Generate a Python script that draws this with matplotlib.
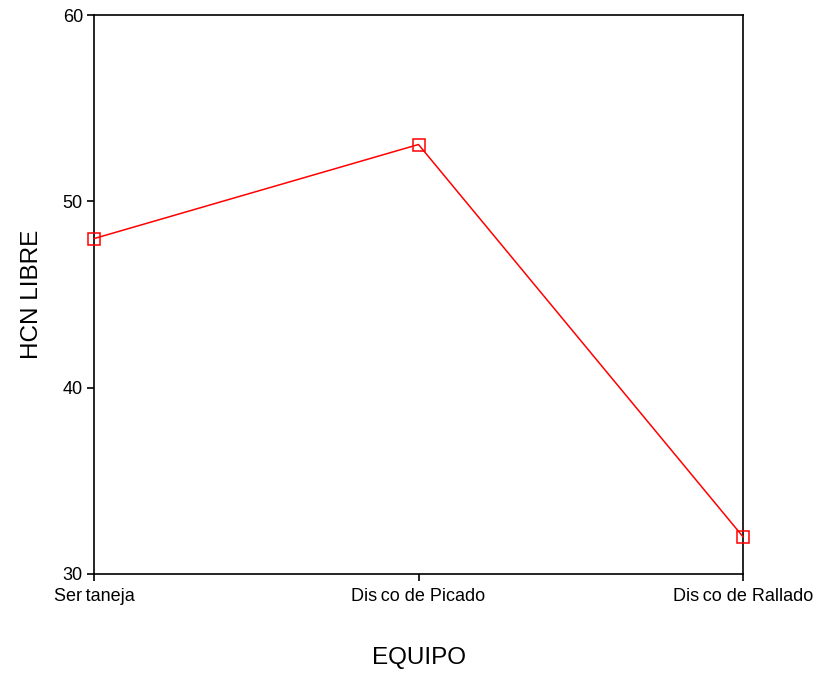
import matplotlib
matplotlib.use("Agg")
import matplotlib.pyplot as plt

equipos = ["Sertaneja", "Disco de Picado", "Disco de Rallado"]
hcn_libre = [48.0, 53.05, 32.0]
etiquetas = ["Ser\u2009taneja", "Dis\u2009co de Picado", "Dis\u2009co de Rallado"]

plt.rcParams['font.family'] = ['Liberation Sans', 'DejaVu Sans']

fig = plt.figure(figsize=(8.27, 6.73), dpi=100)
ax = fig.add_axes([94/827, 1-574/673, (743-94)/827, (574-15)/673])

x = list(range(len(equipos)))
ax.plot(x, hcn_libre, color="red", lw=1.1, marker="s", markersize=8.5,
        markerfacecolor="none", markeredgecolor="red", markeredgewidth=1.1,
        clip_on=False, zorder=5)

ax.set_xlim(0, 2)
ax.set_ylim(30, 60)
ax.set_yticks([30, 40, 50, 60])
ax.set_xticks(x)
ax.set_xticklabels(etiquetas)
ax.tick_params(direction="out", length=5, width=1.2, labelsize=13, pad=3)
ax.tick_params(axis="x", pad=5)
for s in ax.spines.values():
    s.set_linewidth(1.2)

ax.set_xlabel("EQUIPO", fontsize=17.5, labelpad=30)
ax.set_ylabel("HCN LIBRE", fontsize=17.5, labelpad=14)

fig.savefig("out.png", dpi=100)
